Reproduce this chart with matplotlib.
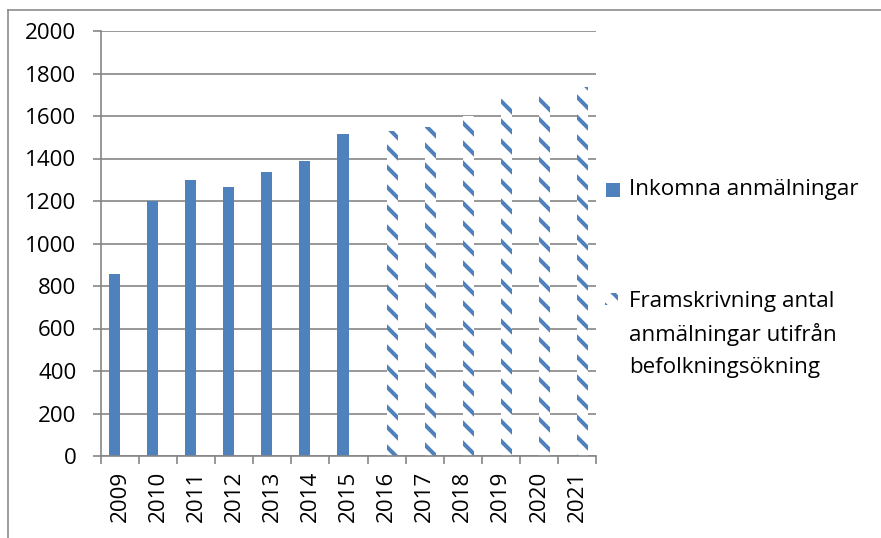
import matplotlib
matplotlib.use("Agg")
import matplotlib.pyplot as plt
from matplotlib.patches import Rectangle
from matplotlib.lines import Line2D
import numpy as np

years = ["2009", "2010", "2011", "2012", "2013", "2014", "2015",
         "2016", "2017", "2018", "2019", "2020", "2021"]
inkomna = [855, 1200, 1300, 1265, 1335, 1390, 1515]
framskrivning = [1530, 1550, 1600, 1680, 1705, 1735]
yticks = [0, 200, 400, 600, 800, 1000, 1200, 1400, 1600, 1800, 2000]
label1 = "Inkomna anmälningar"
label2_lines = ["Framskrivning antal", "anmälningar utifrån", "befolkningsökning"]

BLUE = "#4F81BD"
GRID = "#868686"
DPI = 120
W, H = 881, 538
FONT = "Open Sans"
FS = 13.4

plt.rcParams['font.family'] = [FONT, 'DejaVu Sans']
plt.rcParams['hatch.linewidth'] = 2.4

fig = plt.figure(figsize=(W / DPI, H / DPI), dpi=DPI)
ax = fig.add_axes([101 / W, 1 - 456 / H, (596 - 101) / W, (456 - 31) / H])

bw = 0.29
x_all = np.arange(len(years))
x1 = x_all[:len(inkomna)]
x2 = x_all[len(inkomna):]
ax.bar(x1 - bw / 2, inkomna, width=bw, color=BLUE, linewidth=0)
ax.bar(x2 + bw / 2, framskrivning, width=bw, facecolor="white",
       edgecolor=BLUE, linewidth=0, hatch="\\\\")

ax.set_xlim(-0.5, len(years) - 0.5)
ax.set_ylim(0, 2000)
ax.set_yticks(yticks)
ax.set_yticklabels([str(v) for v in yticks], fontsize=FS)
ax.yaxis.grid(True, color=GRID, linewidth=1.0)
ax.set_axisbelow(True)
ax.set_xticks(x_all)
ax.set_xticklabels(years, rotation=90, fontsize=FS)
ax.set_xticks(np.arange(len(years) + 1) - 0.5, minor=True)
ax.tick_params(axis='x', which='major', length=0, pad=9)
ax.tick_params(axis='x', which='minor', length=4.8, width=1.0, color=GRID, direction='out')
ax.tick_params(axis='y', length=4.8, width=1.0, color=GRID, direction='out', pad=10)

for s in ["top", "right"]:
    ax.spines[s].set_visible(False)
for s in ["left", "bottom"]:
    ax.spines[s].set_color(GRID)
    ax.spines[s].set_linewidth(1.0)

# Outer chart border (top and left visible)
fig.add_artist(Line2D([8 / W, 8 / W], [0, 1 - 10 / H], transform=fig.transFigure,
                      color="#8C8C8C", linewidth=1.0))
fig.add_artist(Line2D([8 / W, 1], [1 - 10 / H, 1 - 10 / H], transform=fig.transFigure,
                      color="#8C8C8C", linewidth=1.0))

# Legend (manual placement)
fig.add_artist(Rectangle((606 / W, 1 - 197 / H), 14 / W, 14 / H, transform=fig.transFigure,
                         facecolor=BLUE, linewidth=0))
fig.text(629 / W, 1 - 190 / H, label1, fontsize=FS, va="center", ha="left")
fig.add_artist(Rectangle((605 / W, 1 - 305 / H), 13 / W, 12 / H, transform=fig.transFigure,
                         facecolor="white", edgecolor=BLUE, linewidth=0, hatch="\\\\"))
for i, line in enumerate(label2_lines):
    fig.text(629 / W, 1 - (301 + 33 * i) / H, line, fontsize=FS, va="center", ha="left")

fig.savefig("out.png", dpi=DPI)
